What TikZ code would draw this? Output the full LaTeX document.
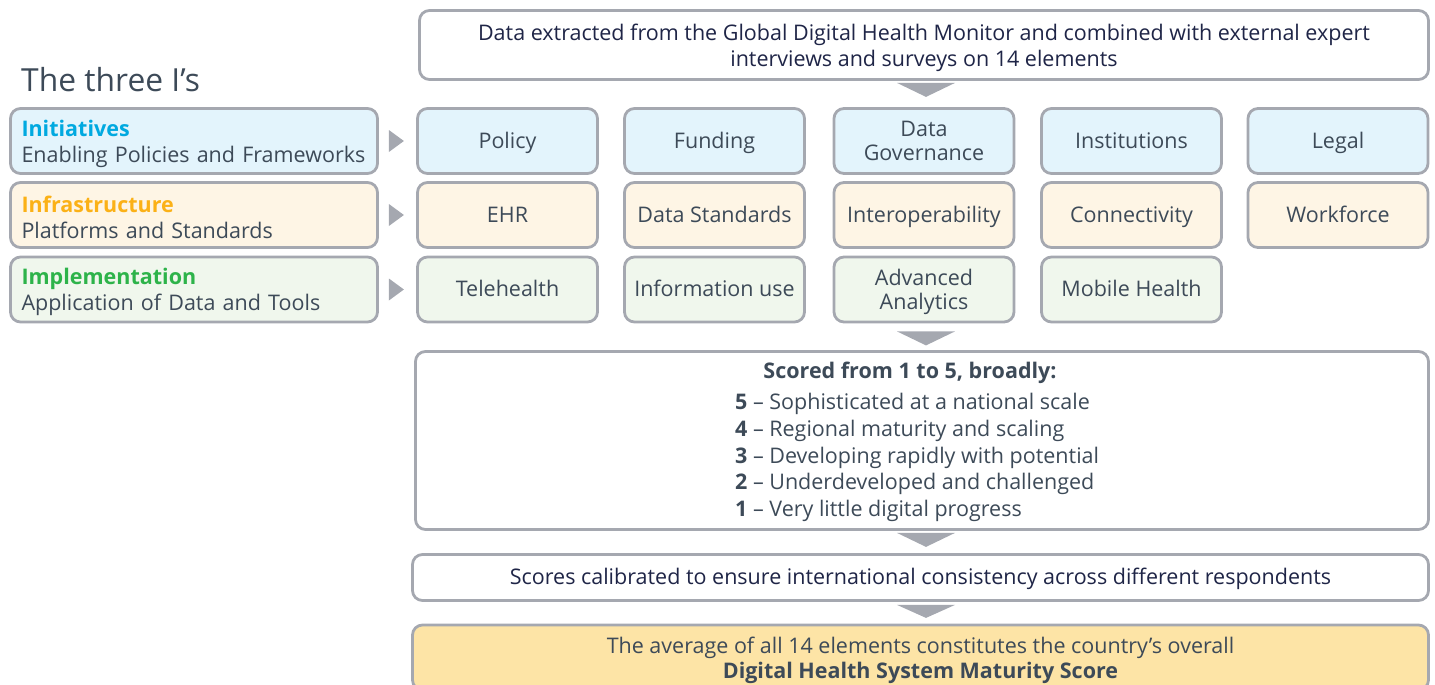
\documentclass[tikz,border=0pt]{standalone}
\usepackage{fontspec}
\setmainfont{Open Sans}
\usetikzlibrary{calc}
\definecolor{edge}{HTML}{A5A8B0}
\definecolor{txt}{HTML}{3D4A58}
\definecolor{navy}{HTML}{1F2547}
\definecolor{blueF}{HTML}{E3F4FC}
\definecolor{orangeF}{HTML}{FEF5E5}
\definecolor{greenF}{HTML}{F0F7ED}
\definecolor{goldF}{HTML}{FDE4A6}
\definecolor{iniC}{HTML}{00A9E0}
\definecolor{infC}{HTML}{FBB117}
\definecolor{impC}{HTML}{2DB34A}
\newcommand\upstrut{\rule{0pt}{22pt}}
\begin{document}
\begin{tikzpicture}[x=1pt,y=-1pt,line join=round,
  box/.style={draw=edge,line width=2.8pt,rounded corners=10pt,text=txt,
    font=\fontsize{21.5}{26}\selectfont,align=center,inner sep=0pt},
  one/.style={text height=19.5pt,text depth=5.2pt},
  elem/.style={box,minimum width=180pt,minimum height=65pt,font=\fontsize{21.5}{24}\selectfont},
  side/.style={box,minimum width=367pt,minimum height=65pt,text width=345pt,align=left},
  tri/.style={fill=edge}]
\useasboundingbox (0,0) rectangle (1435,685);

\node[box,text=navy,minimum width=1009pt,minimum height=69pt] (top) at (924,45)
  {\upstrut Data extracted from the Global Digital Health Monitor and combined with external expert\\interviews and surveys on 14 elements};
\node[anchor=west,text=txt,font=\fontsize{31.8}{36}\selectfont,inner sep=0pt] (title) at (21,80) {The three I’s};

\node[side,fill=blueF] (ini) at (194,141) {\upstrut\textcolor{iniC}{\bfseries Initiatives}\\Enabling Policies and Frameworks};
\node[side,fill=orangeF] (inf) at (194,215) {\upstrut\textcolor{infC}{\bfseries Infrastructure}\\Platforms and Standards};
\node[side,fill=greenF] (imp) at (194,289.5) {\upstrut\textcolor{impC}{\bfseries Implementation}\\Application of Data and Tools};

\node[elem,one,fill=blueF] (e11) at (507.5,141) {Policy};
\node[elem,one,fill=blueF] (e12) at (714.5,141) {Funding};
\node[elem,fill=blueF] (e13) at (924,141) {Data\\Governance};
\node[elem,one,fill=blueF] (e14) at (1131.5,141) {Institutions};
\node[elem,one,fill=blueF] (e15) at (1338,141) {Legal};

\node[elem,one,fill=orangeF] (e21) at (507.5,215) {EHR};
\node[elem,one,fill=orangeF] (e22) at (714.5,215) {Data Standards};
\node[elem,one,fill=orangeF] (e23) at (924,215) {Interoperability};
\node[elem,one,fill=orangeF] (e24) at (1131.5,215) {Connectivity};
\node[elem,one,fill=orangeF] (e25) at (1338,215) {Workforce};

\node[elem,one,fill=greenF] (e31) at (507.5,289.5) {Telehealth};
\node[elem,one,fill=greenF] (e32) at (714.5,289.5) {Information use};
\node[elem,fill=greenF] (e33) at (924,289.5) {\upstrut Advanced\\Analytics};
\node[elem,one,fill=greenF] (e34) at (1131.5,289.5) {Mobile Health};

\node[box,minimum width=1013pt,minimum height=178pt] (scored) at (922,440.5) {};
\node[text=txt,font=\fontsize{21.5}{26}\selectfont\bfseries,inner sep=0pt,one] (scoredhead) at (910,371) {Scored from 1 to 5, broadly:};
\node[anchor=north west,text=txt,font=\fontsize{21.5}{26.8}\selectfont,align=left,inner sep=0pt] (scale) at (735,393)
  {\textbf{5} – Sophisticated at a national scale\\
   \textbf{4} – Regional maturity and scaling\\
   \textbf{3} – Developing rapidly with potential\\
   \textbf{2} – Underdeveloped and challenged\\
   \textbf{1} – Very little digital progress};

\node[box,one,text=navy,minimum width=1016pt,minimum height=46pt] (calib) at (920.5,577.5)
  {Scores calibrated to ensure international consistency across different respondents};
\node[box,fill=goldF,minimum width=1016pt,minimum height=65pt,font=\fontsize{21.5}{25}\selectfont] (final) at (920.5,657.5)
  {\upstrut The average of all 14 elements constitutes the country’s overall\\\textbf{Digital Health System Maturity Score}};

\foreach \n in {ini,inf,imp}
  \fill[tri] ($(\n.east)+(10,-11)$) -- ++(15,11) -- ++(-15,11) -- cycle;

\fill[tri] ($(top.south)+(2,2)$) ++(-29,0) -- ++(58,0) -- ++(-29,14) -- cycle;
\fill[tri] ($(e33.south)+(2,8)$) ++(-29,0) -- ++(58,0) -- ++(-29,14) -- cycle;
\fill[tri] ($(scored.south)+(4,2)$) ++(-29,0) -- ++(58,0) -- ++(-29,14) -- cycle;
\fill[tri] ($(calib.south)+(5.5,3)$) ++(-29,0) -- ++(58,0) -- ++(-29,13) -- cycle;
\end{tikzpicture}
\end{document}
